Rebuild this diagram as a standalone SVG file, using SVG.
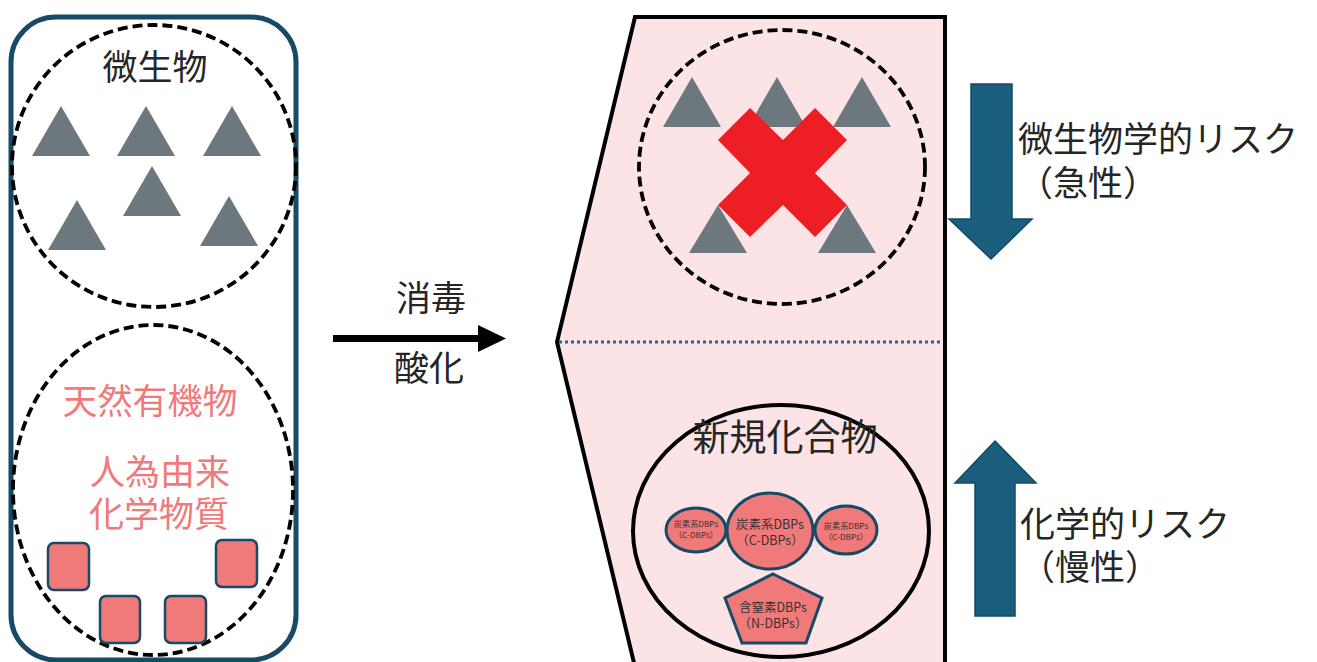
<svg xmlns="http://www.w3.org/2000/svg" width="1317" height="662" viewBox="0 0 1317 662">
<defs>
<style>
text{font-family:"Noto Sans CJK JP","Noto Sans",sans-serif;}
.lbl{font-size:35px;fill:#262626;text-anchor:middle;}
.lbl-l{font-size:35px;fill:#262626;}
.pink{font-size:35px;fill:#f07a7a;text-anchor:middle;}
.dash{fill:none;stroke:#000;stroke-width:3.8;stroke-dasharray:10 5;}
.tri{fill:#6c787e;}
.chem{fill:#f07a7a;stroke:#174a66;stroke-width:3;}
.sq{fill:#f07a7a;stroke:#174a66;stroke-width:2.5;}
.sm{font-size:8.2px;fill:#3a3030;text-anchor:middle;}
.md{font-size:12.5px;fill:#3a3030;text-anchor:middle;}
.risk{fill:#1a5e7e;stroke:#154a66;stroke-width:1.5;}
</style>
</defs>

<g id="before">
<rect x="11" y="17" width="285" height="643" rx="45" ry="45" fill="#fff" stroke="#174a66" stroke-width="5"/>
<g id="microbes">
<ellipse class="dash" cx="154" cy="166" rx="142" ry="141"/>
<text class="lbl" x="155" y="80">微生物</text>
<polygon class="tri" points="61,106 90,156 32,156"/>
<polygon class="tri" points="146,106 175,156 117,156"/>
<polygon class="tri" points="232,106 261,156 203,156"/>
<polygon class="tri" points="152,166 181,216 123,216"/>
<polygon class="tri" points="77,200 106,250 48,250"/>
<polygon class="tri" points="229,196 258,246 200,246"/>
</g>
<g id="organics">
<ellipse class="dash" cx="153" cy="490" rx="140" ry="165"/>
<text class="pink" x="150" y="414">天然有機物</text>
<text class="pink" x="160" y="485">人為由来</text>
<text class="pink" x="159" y="527">化学物質</text>
<rect class="sq" x="48" y="543" width="41" height="47" rx="6"/>
<rect class="sq" x="100" y="596" width="40" height="47" rx="6"/>
<rect class="sq" x="165" y="596" width="41" height="47" rx="6"/>
<rect class="sq" x="216" y="540" width="41" height="47" rx="6"/>
</g>
</g>

<g id="connectors">
<rect x="333" y="335" width="148" height="7" fill="#000"/>
<polygon points="478,325 506,338.5 478,352" fill="#000"/>
<text class="lbl" x="431" y="311">消毒</text>
<text class="lbl" x="429" y="381">酸化</text>
</g>

<g id="after">
<polygon points="635,17 945,17 945,667 635,667 557,342" fill="#fce4e6" stroke="#000" stroke-width="4" stroke-linejoin="miter"/>
<line x1="559" y1="342" x2="943" y2="342" stroke="#23698f" stroke-width="3" stroke-dasharray="3 3"/>
<g id="inactivated">
<ellipse class="dash" cx="782" cy="167" rx="143" ry="137"/>
<polygon class="tri" points="692,77 721,127 663,127"/>
<polygon class="tri" points="777,77 806,127 748,127"/>
<polygon class="tri" points="862,77 891,127 833,127"/>
<polygon class="tri" points="718,205 747,253 689,253"/>
<polygon class="tri" points="847,205 876,253 818,253"/>
<polygon fill="#ed1f24" points="750,108 783,140 815,108 847,140 815,173 847,205 815,237 783,205 750,237 718,205 750,173 718,140"/>
</g>
<g id="dbps">
<ellipse cx="781" cy="531" rx="148" ry="126" fill="none" stroke="#000" stroke-width="4"/>
<text x="785" y="451" style="font-size:37px;fill:#262626;text-anchor:middle">新規化合物</text>
<ellipse class="chem" cx="696" cy="530" rx="30" ry="22"/>
<text class="sm" x="696" y="527">炭素系DBPs</text>
<text class="sm" x="696" y="538">（C-DBPs）</text>
<ellipse class="chem" cx="770" cy="531" rx="43" ry="38"/>
<text class="md" x="770" y="529">炭素系DBPs</text>
<text class="md" x="770" y="545">（C-DBPs）</text>
<ellipse class="chem" cx="846" cy="530" rx="31" ry="24"/>
<text class="sm" x="846" y="529">炭素系DBPs</text>
<text class="sm" x="846" y="540">（C-DBPs）</text>
<polygon class="chem" points="773,574 822,598 806,643 742,643 725,598"/>
<text class="md" x="773" y="612">含窒素DBPs</text>
<text class="md" x="773" y="628">（N-DBPs）</text>
</g>
</g>

<g id="risks">
<polygon class="risk" points="971,84 1012,84 1012,219 1032,219 991,259 949,219 971,219"/>
<text class="lbl-l" x="1018" y="152">微生物学的リスク</text>
<text class="lbl-l" x="1018" y="196">（急性）</text>
<polygon class="risk" points="995,441 1036,483 1015,483 1015,616 975,616 975,483 955,483"/>
<text class="lbl-l" x="1020" y="537">化学的リスク</text>
<text class="lbl-l" x="1020" y="580">（慢性）</text>
</g>
</svg>
